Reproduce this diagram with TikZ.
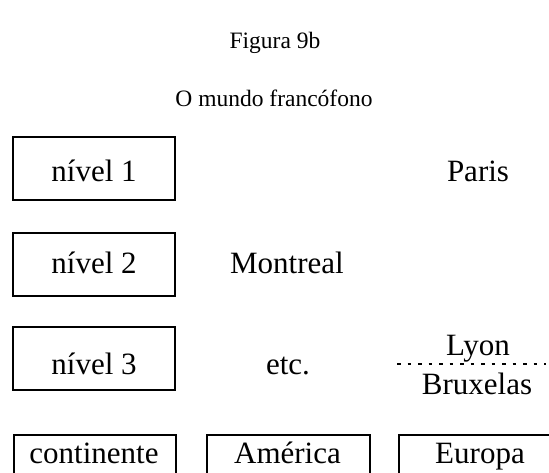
\documentclass[tikz,border=0pt]{standalone}
\usepackage{fontspec}
\setmainfont{Liberation Serif}
\begin{document}
\begin{tikzpicture}[x=1pt,y=-1pt,
  lab/.style={anchor=base,inner sep=0pt,font=\fontsize{31}{36}\selectfont},
  ttl/.style={anchor=base,inner sep=0pt,font=\fontsize{23.5}{28}\selectfont},
  frame/.style={draw,line width=2pt,inner sep=0pt,minimum width=162pt,minimum height=63pt},
  lowframe/.style={draw,line width=2pt,inner sep=0pt,anchor=north west}]
\useasboundingbox (0,0) rectangle (549,472);
\clip (0,0) rectangle (549,472);
% titles
\node[ttl] (t1) at (275,48) {Figura 9b};
\node[ttl] (t2) at (274,106) {O mundo francófono};
% level boxes
\node[frame] (b1) at (94,168.5) {};
\node[frame] (b2) at (94,264) {};
\node[frame] (b3) at (94,358.5) {};
\node[lab] (n1) at (94,181) {nível 1};
\node[lab] (n2) at (94,273) {nível 2};
\node[lab] (n3) at (94,374) {nível 3};
% cities
\node[lab] (paris) at (478,181) {Paris};
\node[lab] (montreal) at (287,273) {Montreal};
\node[lab] (etc) at (288,374) {etc.};
\node[lab] (lyon) at (478,355) {Lyon};
\node[lab] (brux) at (477,394) {Bruxelas};
\coordinate (dl) at (397,364);
\coordinate (dr) at (546,364);
\draw[line width=1.8pt,dash pattern=on 3.5pt off 7pt] (dl) -- (dr);
% bottom row
\node[lowframe,minimum width=162pt,minimum height=60pt] (c1) at (13,434) {};
\node[lowframe,minimum width=163pt,minimum height=60pt] (c2) at (206,434) {};
\node[lowframe,minimum width=160pt,minimum height=60pt] (c3) at (398,434) {};
\node[lab] (cont) at (94,463) {continente};
\node[lab] (amer) at (287.5,463) {América};
\node[lab] (euro) at (480,463) {Europa};
\end{tikzpicture}
\end{document}
